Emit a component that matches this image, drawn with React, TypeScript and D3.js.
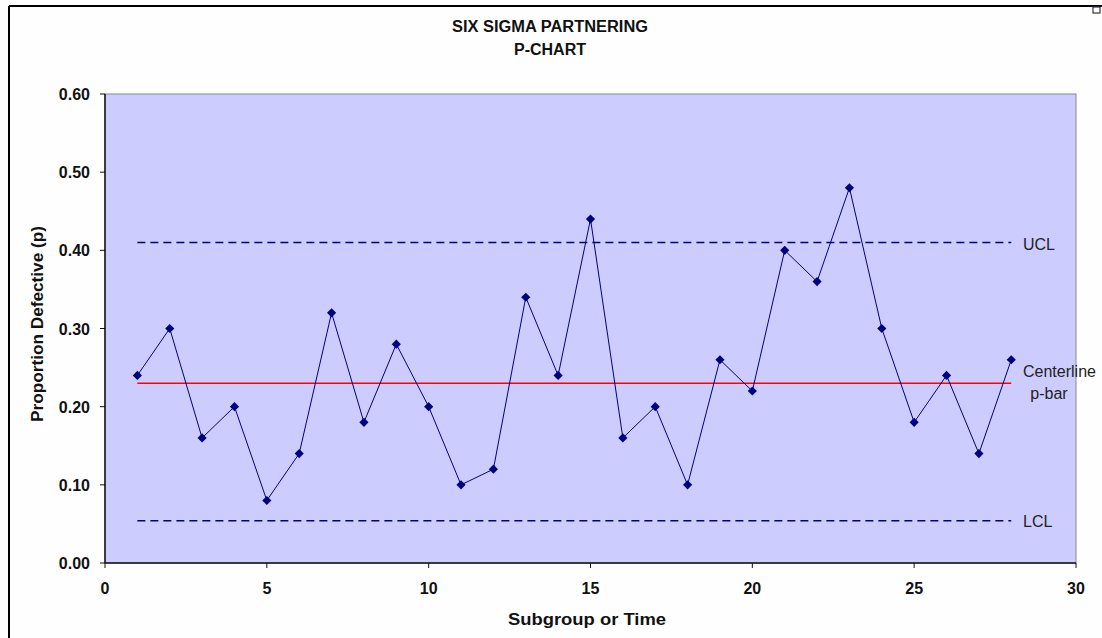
import React from "react";
import * as d3 from "d3";

const subgroups = [1, 2, 3, 4, 5, 6, 7, 8, 9, 10, 11, 12, 13, 14, 15, 16, 17, 18, 19, 20, 21, 22, 23, 24, 25, 26, 27, 28];
const proportions = [0.24, 0.30, 0.16, 0.20, 0.08, 0.14, 0.32, 0.18, 0.28, 0.20, 0.10, 0.12, 0.34, 0.24, 0.44, 0.16, 0.20, 0.10, 0.26, 0.22, 0.40, 0.36, 0.48, 0.30, 0.18, 0.24, 0.14, 0.26];
const ucl = 0.41;
const centerline = 0.23;
const lcl = 0.054;
const xTicks = [0, 5, 10, 15, 20, 25, 30];
const yTicks = [0, 0.1, 0.2, 0.3, 0.4, 0.5, 0.6];

const W = 1102, H = 638;
const L = 105, R = 1076, T = 94, B = 563;

export default function App() {
  const x = d3.scaleLinear().domain([0, 30]).range([L, R]);
  const y = d3.scaleLinear().domain([0, 0.6]).range([B, T]);
  const line = d3.line<number>().x((_, i) => x(subgroups[i])).y((d) => y(d));
  const diamond = d3.symbol().type(d3.symbolSquare).size(42)();
  const font = "'Liberation Sans', Arial, sans-serif";
  const x0 = x(subgroups[0]), x1 = x(subgroups[subgroups.length - 1]);
  return (
    <svg width={W} height={H} style={{ position: "absolute", left: 0, top: 0, background: "#fff" }} fontFamily={font}>
      <rect x={0} y={0} width={W} height={H} fill="#fefefe" />
      <line x1={9} y1={6} x2={W} y2={6} stroke="#000" strokeWidth={2} />
      <line x1={9} y1={6} x2={9} y2={H} stroke="#000" strokeWidth={2} />
      <rect x={1093} y={7} width={7} height={6} fill="none" stroke="#334" strokeWidth={1.2} />
      <text x={550} y={32} textAnchor="middle" fontSize={16} fontWeight="bold" fill="#111" textLength={196} lengthAdjust="spacingAndGlyphs">SIX SIGMA PARTNERING</text>
      <text x={550} y={55} textAnchor="middle" fontSize={16} fontWeight="bold" fill="#111">P-CHART</text>
      <rect x={L} y={T} width={R - L} height={B - T} fill="#CCCCFF" stroke="#888" strokeWidth={1} />
      <line x1={L} y1={T} x2={L} y2={B} stroke="#111" strokeWidth={1.5} />
      <line x1={L} y1={B} x2={R} y2={B} stroke="#111" strokeWidth={1.5} />
      {yTicks.map((t) => (
        <g key={"y" + t}>
          <line x1={L - 5} x2={L} y1={y(t)} y2={y(t)} stroke="#111" />
          <text x={90} y={y(t) + 6} textAnchor="end" fontSize={16} fontWeight="bold" fill="#111">{t.toFixed(2)}</text>
        </g>
      ))}
      {xTicks.map((t) => (
        <g key={"x" + t}>
          <line x1={x(t)} x2={x(t)} y1={B} y2={B + 5} stroke="#111" />
          <text x={x(t)} y={594} textAnchor="middle" fontSize={16} fontWeight="bold" fill="#111">{t}</text>
        </g>
      ))}
      <text transform={`translate(43,324) rotate(-90)`} textAnchor="middle" fontSize={16} fontWeight="bold" fill="#111" textLength={196} lengthAdjust="spacingAndGlyphs">Proportion Defective (p)</text>
      <text x={587} y={625} textAnchor="middle" fontSize={16} fontWeight="bold" fill="#111" textLength={158} lengthAdjust="spacingAndGlyphs">Subgroup or Time</text>
      <line x1={x0} x2={x1} y1={y(ucl)} y2={y(ucl)} stroke="#000080" strokeWidth={1.5} strokeDasharray="8,5" />
      <line x1={x0} x2={x1} y1={y(lcl)} y2={y(lcl)} stroke="#000080" strokeWidth={1.5} strokeDasharray="8,5" />
      <line x1={x0} x2={x1} y1={y(centerline)} y2={y(centerline)} stroke="#FF0000" strokeWidth={1.5} />
      <path d={line(proportions) || ""} fill="none" stroke="#000080" strokeWidth={1} />
      {proportions.map((p, i) => (
        <path key={i} d={diamond || ""} transform={`translate(${x(subgroups[i])},${y(p)}) rotate(45)`} fill="#000080" />
      ))}
      <text x={1023} y={y(ucl) + 7} fontSize={16} fill="#222">UCL</text>
      <text x={1023} y={377} fontSize={16} fill="#222">Centerline</text>
      <text x={1049} y={399} textAnchor="middle" fontSize={16} fill="#222">p-bar</text>
      <text x={1023} y={y(lcl) + 6} fontSize={16} fill="#222">LCL</text>
    </svg>
  );
}
